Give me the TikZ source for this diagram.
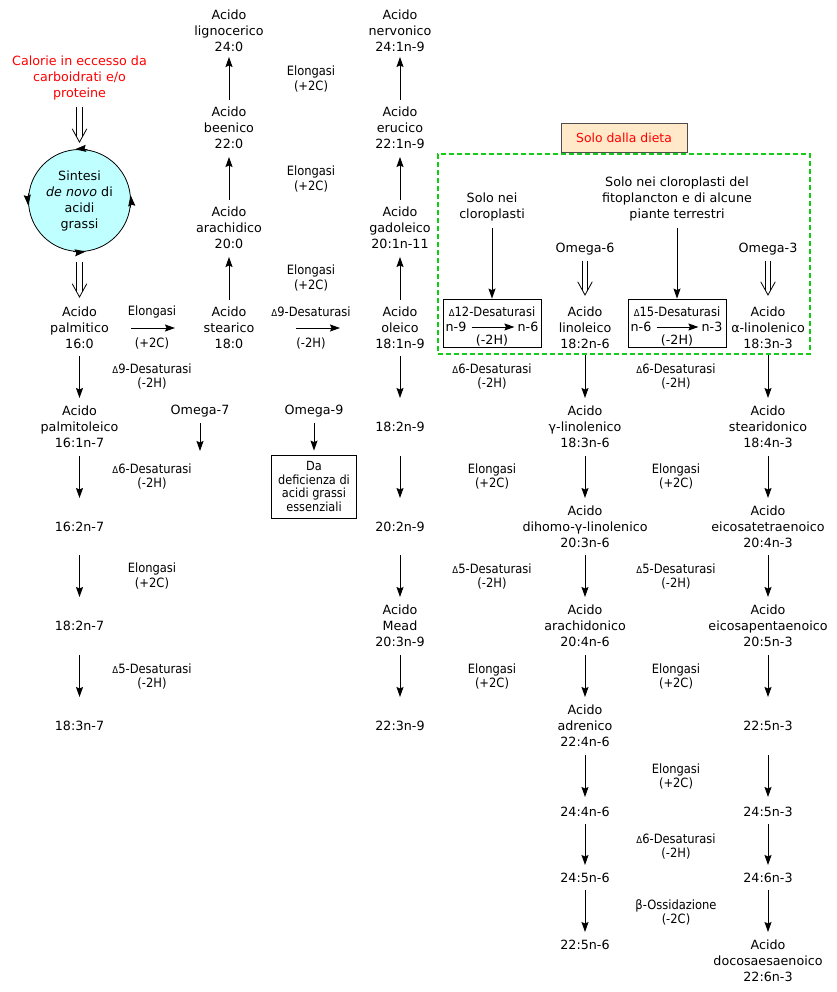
\documentclass[tikz,border=0pt]{standalone}
\usepackage{fontspec}
\setmainfont{DejaVu Sans}
\newfontfamily\labfont{DejaVu Sans Condensed}
\usetikzlibrary{arrows.meta}
\definecolor{cyanfill}{RGB}{191,255,255}
\definecolor{peach}{RGB}{255,233,200}
\definecolor{dgreen}{RGB}{20,204,20}
\newcommand{\mydelta}{{\fontsize{9.5}{9.5}\selectfont Δ}}
% open V head of a double arrow pointing down, tip at coordinate #1
\newcommand{\vhead}[1]{\draw[line width=0.8pt, line join=miter] ([shift={(-7.3pt,13.3pt)}]#1) -- (#1) -- ([shift={(7.3pt,13.3pt)}]#1);}
\tikzset{
  acid/.style={align=center, inner sep=0pt, font=\fontsize{12.7}{16}\selectfont},
  lab/.style={align=center, inner sep=0pt, font=\labfont\fontsize{12.8}{14.5}\selectfont},
  arr/.style={line width=1pt, -{Stealth[length=10pt,width=7pt,inset=1.5pt]}},
  cir/.style={line width=0.8pt, -{Stealth[length=11pt,width=7pt,inset=1.5pt]}},
  dshaft/.style={double, double distance=4.6pt, line width=0.8pt},
}
\begin{document}
\begin{tikzpicture}[x=1pt,y=1pt]
\useasboundingbox (0,0) rectangle (836,-992);

% ---------- column A ----------
\node[acid, text=red] (cal) at (79.5,-78) {Calorie in eccesso da\\carboidrati e/o\\proteine};
\node[circle, draw, fill=cyanfill, line width=0.8pt, minimum size=102pt, inner sep=0pt,
      align=center, font=\fontsize{12.7}{16}\selectfont] (syn) at (79.5,-200.5)
      {Sintesi\\\textit{de novo} di\\acidi\\grassi};
\draw[cir] (syn.81) arc[start angle=81, end angle=95, radius=51.4pt];
\draw[cir] (syn.172) arc[start angle=172, end angle=186, radius=51.4pt];
\draw[cir] (syn.263) arc[start angle=263, end angle=277, radius=51.4pt];
\draw[cir] (syn.352) arc[start angle=352, end angle=366, radius=51.4pt];

\node[acid] (palm) at (79.5,-328) {Acido\\palmitico\\16:0};
\node[acid] (palmo) at (79.5,-427) {Acido\\palmitoleico\\16:1n-7};
\node[acid] (a162) at (79.5,-527) {16:2n-7};
\node[acid] (a182) at (79.5,-626) {18:2n-7};
\node[acid] (a183) at (79.5,-726) {18:3n-7};

\coordinate (t1) at ([yshift=7pt]syn.north);
\draw[dshaft, shorten <=29pt] (cal.center) -- ([yshift=4.8pt]t1);
\vhead{t1}
\coordinate (t2) at ([yshift=31pt]palm.center);
\draw[dshaft, shorten <=10pt] (syn.south) -- ([yshift=4.8pt]t2);
\vhead{t2}
\draw[arr, shorten <=28pt, shorten >=29pt] (palm.center) -- (palmo.center);
\draw[arr, shorten <=29pt, shorten >=29pt] (palmo.center) -- (a162.center);
\draw[arr, shorten <=28pt, shorten >=29pt] (a162.center) -- (a182.center);
\draw[arr, shorten <=29pt, shorten >=29pt] (a182.center) -- (a183.center);

% ---------- column B ----------
\node[acid] (stea) at (229,-328) {Acido\\stearico\\18:0};
\node[acid] (arac) at (229,-228) {Acido\\arachidico\\20:0};
\node[acid] (been) at (229,-128) {Acido\\beenico\\22:0};
\node[acid] (ligno) at (229,-31) {Acido\\lignocerico\\24:0};
\draw[arr, shorten <=28pt, shorten >=29pt] (stea.center) -- (arac.center);
\draw[arr, shorten <=28pt, shorten >=29pt] (arac.center) -- (been.center);
\draw[arr, shorten <=28pt, shorten >=26pt] (been.center) -- (ligno.center);

% ---------- column C ----------
\node[acid] (olei) at (400,-328) {Acido\\oleico\\18:1n-9};
\node[acid] (gado) at (400,-228) {Acido\\gadoleico\\20:1n-11};
\node[acid] (eruc) at (400,-128) {Acido\\erucico\\22:1n-9};
\node[acid] (nerv) at (400,-31) {Acido\\nervonico\\24:1n-9};
\node[acid] (o182) at (400,-427) {18:2n-9};
\node[acid] (o202) at (400,-527) {20:2n-9};
\node[acid] (mead) at (400,-626) {Acido\\Mead\\20:3n-9};
\node[acid] (o223) at (400,-726) {22:3n-9};
\draw[arr, shorten <=28pt, shorten >=29pt] (olei.center) -- (gado.center);
\draw[arr, shorten <=28pt, shorten >=29pt] (gado.center) -- (eruc.center);
\draw[arr, shorten <=28pt, shorten >=26pt] (eruc.center) -- (nerv.center);
\draw[arr, shorten <=28pt, shorten >=29pt] (olei.center) -- (o182.center);
\draw[arr, shorten <=29pt, shorten >=29pt] (o182.center) -- (o202.center);
\draw[arr, shorten <=28pt, shorten >=29pt] (o202.center) -- (mead.center);
\draw[arr, shorten <=29pt, shorten >=29pt] (mead.center) -- (o223.center);

% horizontal
\draw[arr, shorten <=51.5pt, shorten >=54pt] (palm.center) -- (stea.center);
\draw[arr, shorten <=67pt, shorten >=60pt] (stea.center) -- (olei.center);

% labels A-B and B-C
\node[lab] (l1a) at (152,-312) {Elongasi};
\node[lab] (l1b) at (152,-343) {(+2C)};
\node[lab] (l2a) at (311,-312) {\mydelta9-Desaturasi};
\node[lab] (l2b) at (311,-343) {(-2H)};
\node[lab] (l3) at (311,-79) {Elongasi\\(+2C)};
\node[lab] (l4) at (311,-179) {Elongasi\\(+2C)};
\node[lab] (l5) at (311,-278) {Elongasi\\(+2C)};
\node[lab] (l6) at (152,-376.5) {\mydelta9-Desaturasi\\(-2H)};
\node[lab] (l7) at (152,-476.5) {\mydelta6-Desaturasi\\(-2H)};
\node[lab] (l8) at (152,-576) {Elongasi\\(+2C)};
\node[lab] (l9) at (152,-676.5) {\mydelta5-Desaturasi\\(-2H)};

% omega-7 / omega-9
\node[acid] (om7) at (200,-411) {Omega-7};
\coordinate (om7end) at (200,-451);
\draw[arr, shorten <=12pt] (om7.center) -- (om7end);
\node[acid] (om9) at (314,-411) {Omega-9};
\node[draw, line width=0.8pt, minimum width=85pt, minimum height=63pt, inner sep=0pt,
      align=center, font=\labfont\fontsize{12.6}{13.7}\selectfont] (dfz) at (314,-486.5)
      {Da\\deficienza di\\acidi grassi\\essenziali};
\draw[arr, shorten <=12pt, shorten >=4pt] (om9.center) -- (dfz.north);

% ---------- dietary region ----------
\node[draw=dgreen, line width=1.4pt, dash pattern=on 5pt off 3pt, minimum width=372pt,
      minimum height=200pt, inner sep=0pt] (diet) at (624,-254) {};
\node[draw=black!70, fill=peach, line width=0.8pt, minimum width=126pt, minimum height=29pt,
      inner sep=0pt, text=red, font=\fontsize{12.4}{15}\selectfont] (solo) at (624,-137.5) {Solo dalla dieta};

\node[acid] (sncl) at (492,-207) {Solo nei\\cloroplasti};
\node[acid] (sncf) at (677,-199) {Solo nei cloroplasti del\\fitoplancton e di alcune\\piante terrestri};

\node[draw, line width=0.8pt, minimum width=98pt, minimum height=48pt, inner sep=0pt] (d12) at (492,-323) {};
\node[lab] (d12t) at (492,-312) {\mydelta12-Desaturasi};
\node[acid] (n9a) at (456,-327) {n-9};
\node[acid] (n6a) at (528,-327) {n-6};
\draw[arr, shorten <=5pt, shorten >=3pt] (n9a) -- (n6a);
\node[acid] (d12h) at (492,-341) {(-2H)};
\draw[arr, shorten <=21pt] (sncl.center) -- (d12.north);

\node[draw, line width=0.8pt, minimum width=98pt, minimum height=48pt, inner sep=0pt] (d15) at (677,-323) {};
\node[lab] (d15t) at (677,-312) {\mydelta15-Desaturasi};
\node[acid] (n6b) at (641,-327) {n-6};
\node[acid] (n3b) at (712,-327) {n-3};
\draw[arr, shorten <=5pt, shorten >=3pt] (n6b) -- (n3b);
\node[acid] (d15h) at (677,-341) {(-2H)};
\draw[arr, shorten <=29pt] (sncf.center) -- (d15.north);

% ---------- column D (omega-6) ----------
\node[acid] (om6) at (585,-249) {Omega-6};
\node[acid] (lino) at (585,-328) {Acido\\linoleico\\18:2n-6};
\node[acid] (glin) at (585,-427) {Acido\\γ-linolenico\\18:3n-6};
\node[acid] (dgla) at (585,-527) {Acido\\dihomo-γ-linolenico\\20:3n-6};
\node[acid] (arach) at (585,-626) {Acido\\arachidonico\\20:4n-6};
\node[acid] (adren) at (585,-726) {Acido\\adrenico\\22:4n-6};
\node[acid] (d244) at (585,-812) {24:4n-6};
\node[acid] (d245) at (585,-878) {24:5n-6};
\node[acid] (d225) at (585,-945) {22:5n-6};
\coordinate (t3) at ([yshift=33pt]lino.center);
\draw[dshaft, shorten <=12pt] (om6.center) -- ([yshift=4.8pt]t3);
\vhead{t3}
\draw[arr, shorten <=27pt, shorten >=29pt] (lino.center) -- (glin.center);
\draw[arr, shorten <=29pt, shorten >=29pt] (glin.center) -- (dgla.center);
\draw[arr, shorten <=28pt, shorten >=29pt] (dgla.center) -- (arach.center);
\draw[arr, shorten <=29pt, shorten >=29pt] (arach.center) -- (adren.center);
\draw[arr, shorten <=29pt, shorten >=15pt] (adren.center) -- (d244.center);
\draw[arr, shorten <=12pt, shorten >=13pt] (d244.center) -- (d245.center);
\draw[arr, shorten <=12pt, shorten >=13pt] (d245.center) -- (d225.center);

% ---------- column E (omega-3) ----------
\node[acid] (om3) at (768,-249) {Omega-3};
\node[acid] (alin) at (768,-328) {Acido\\α-linolenico\\18:3n-3};
\node[acid] (stear) at (768,-427) {Acido\\stearidonico\\18:4n-3};
\node[acid] (eicte) at (768,-527) {Acido\\eicosatetraenoico\\20:4n-3};
\node[acid] (epa) at (768,-626) {Acido\\eicosapentaenoico\\20:5n-3};
\node[acid] (e225) at (768,-726) {22:5n-3};
\node[acid] (e245) at (768,-812) {24:5n-3};
\node[acid] (e246) at (768,-878) {24:6n-3};
\node[acid] (dha) at (768,-961) {Acido\\docosaesaenoico\\22:6n-3};
\coordinate (t4) at ([yshift=33pt]alin.center);
\draw[dshaft, shorten <=12pt] (om3.center) -- ([yshift=4.8pt]t4);
\vhead{t4}
\draw[arr, shorten <=27pt, shorten >=29pt] (alin.center) -- (stear.center);
\draw[arr, shorten <=29pt, shorten >=29pt] (stear.center) -- (eicte.center);
\draw[arr, shorten <=28pt, shorten >=29pt] (eicte.center) -- (epa.center);
\draw[arr, shorten <=29pt, shorten >=29pt] (epa.center) -- (e225.center);
\draw[arr, shorten <=29pt, shorten >=15pt] (e225.center) -- (e245.center);
\draw[arr, shorten <=12pt, shorten >=13pt] (e245.center) -- (e246.center);
\draw[arr, shorten <=12pt, shorten >=29pt] (e246.center) -- (dha.center);

% labels C-D
\node[lab] (m1) at (492,-376.5) {\mydelta6-Desaturasi\\(-2H)};
\node[lab] (m2) at (492,-476.5) {Elongasi\\(+2C)};
\node[lab] (m3) at (492,-576.5) {\mydelta5-Desaturasi\\(-2H)};
\node[lab] (m4) at (492,-676.5) {Elongasi\\(+2C)};
% labels D-E
\node[lab] (r1) at (676,-376.5) {\mydelta6-Desaturasi\\(-2H)};
\node[lab] (r2) at (676,-476.5) {Elongasi\\(+2C)};
\node[lab] (r3) at (676,-576.5) {\mydelta5-Desaturasi\\(-2H)};
\node[lab] (r4) at (676,-676.5) {Elongasi\\(+2C)};
\node[lab] (r5) at (676,-776.5) {Elongasi\\(+2C)};
\node[lab] (r6) at (676,-846.5) {\mydelta6-Desaturasi\\(-2H)};
\node[lab] (r7) at (676,-912.5) {β-Ossidazione\\(-2C)};
\end{tikzpicture}
\end{document}
